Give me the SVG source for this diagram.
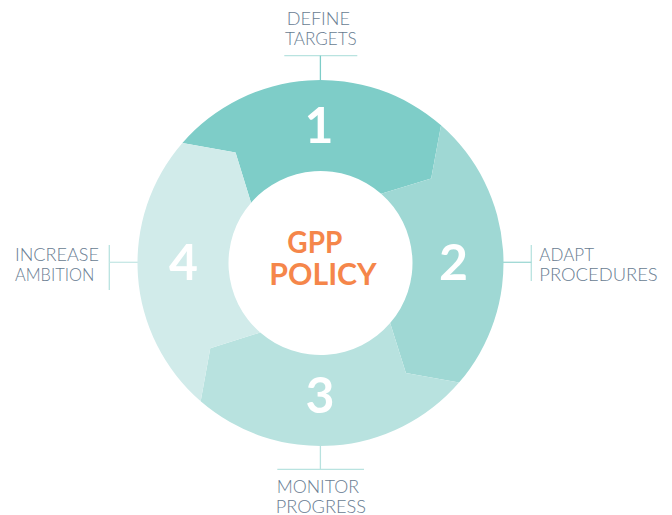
<svg xmlns="http://www.w3.org/2000/svg" width="672" height="515" viewBox="0 0 672 515">
<style>
.lbl{font-family:Lato,"Liberation Sans",sans-serif;font-weight:300;font-size:17px;fill:#687C91}
.num{font-family:Lato,"Liberation Sans",sans-serif;font-weight:700;font-size:50px;fill:#ffffff;text-anchor:middle}
.ctr{font-family:Lato,"Liberation Sans",sans-serif;font-weight:700;font-size:30px;fill:#F5864A}
.bar{stroke:#B9E3E0;stroke-width:1.3;fill:none}
</style>
<rect width="672" height="515" fill="#ffffff"/>
<g id="connectors">
<line class="bar" x1="284.3" y1="55.7" x2="357.3" y2="55.7"/>
<line x1="320.4" y1="55.7" x2="320.4" y2="81" stroke="#7ECDC8" stroke-width="1.3"/>
<line class="bar" x1="531.3" y1="245" x2="531.3" y2="281"/>
<line x1="502" y1="262.3" x2="531.3" y2="262.3" stroke="#9FD8D4" stroke-width="1.3"/>
<line class="bar" x1="109.3" y1="245" x2="109.3" y2="290"/>
<line x1="109.3" y1="262.3" x2="139" y2="262.3" stroke="#C6E7E5" stroke-width="1.3"/>
<line x1="320.4" y1="445" x2="320.4" y2="469.3" stroke="#B8E2DF" stroke-width="1.3"/>
<line class="bar" x1="277.3" y1="469.3" x2="364" y2="469.3"/>
</g>
<g id="segment-1">
<path d="M182.39 142.94 A183 183 0 0 1 441.05 125.32 L431.16 178.39 L381.11 193.78 A92 92 0 0 0 251.07 202.64 L235.54 152.61 Z" fill="#7ECDC8"/>
<text class="num" x="319" y="143">1</text>
</g>
<g id="segment-2">
<path d="M441.05 125.32 A183 183 0 0 1 459.03 382.58 L405.91 373.05 L390.14 323.11 A92 92 0 0 0 381.11 193.78 L431.16 178.39 Z" fill="#9FD8D4"/>
<text class="num" x="453.5" y="280">2</text>
</g>
<g id="segment-3">
<path d="M459.03 382.58 A183 183 0 0 1 200.68 401.32 L210.28 348.19 L260.26 332.54 A92 92 0 0 0 390.14 323.11 L405.91 373.05 Z" fill="#B8E2DF"/>
<text class="num" x="320" y="413">3</text>
</g>
<g id="segment-4">
<path d="M200.68 401.32 A183 183 0 0 1 182.39 142.94 L235.54 152.61 L251.07 202.64 A92 92 0 0 0 260.26 332.54 L210.28 348.19 Z" fill="#D1EBEA"/>
<text class="num" x="183.5" y="280">4</text>
</g>
<g id="center">
<text class="ctr" x="287.3" y="252.7" textLength="55" lengthAdjust="spacingAndGlyphs">GPP</text>
<text class="ctr" x="269.3" y="285" textLength="107.4" lengthAdjust="spacingAndGlyphs">POLICY</text>
</g>
<g id="label-define">
<text class="lbl" x="286.7" y="25" textLength="63.3" lengthAdjust="spacingAndGlyphs">DEFINE</text>
<text class="lbl" x="285" y="45" textLength="71.7" lengthAdjust="spacingAndGlyphs">TARGETS</text>
</g>
<g id="label-adapt">
<text class="lbl" x="539.3" y="260.7" textLength="54.7" lengthAdjust="spacingAndGlyphs">ADAPT</text>
<text class="lbl" x="539.3" y="280.7" textLength="118.4" lengthAdjust="spacingAndGlyphs">PROCEDURES</text>
</g>
<g id="label-increase">
<text class="lbl" x="15" y="260.7" textLength="84" lengthAdjust="spacingAndGlyphs">INCREASE</text>
<text class="lbl" x="15" y="280.7" textLength="79.3" lengthAdjust="spacingAndGlyphs">AMBITION</text>
</g>
<g id="label-monitor">
<text class="lbl" x="276.7" y="493.3" textLength="82.3" lengthAdjust="spacingAndGlyphs">MONITOR</text>
<text class="lbl" x="275.7" y="512.7" textLength="90.3" lengthAdjust="spacingAndGlyphs">PROGRESS</text>
</g>
</svg>
